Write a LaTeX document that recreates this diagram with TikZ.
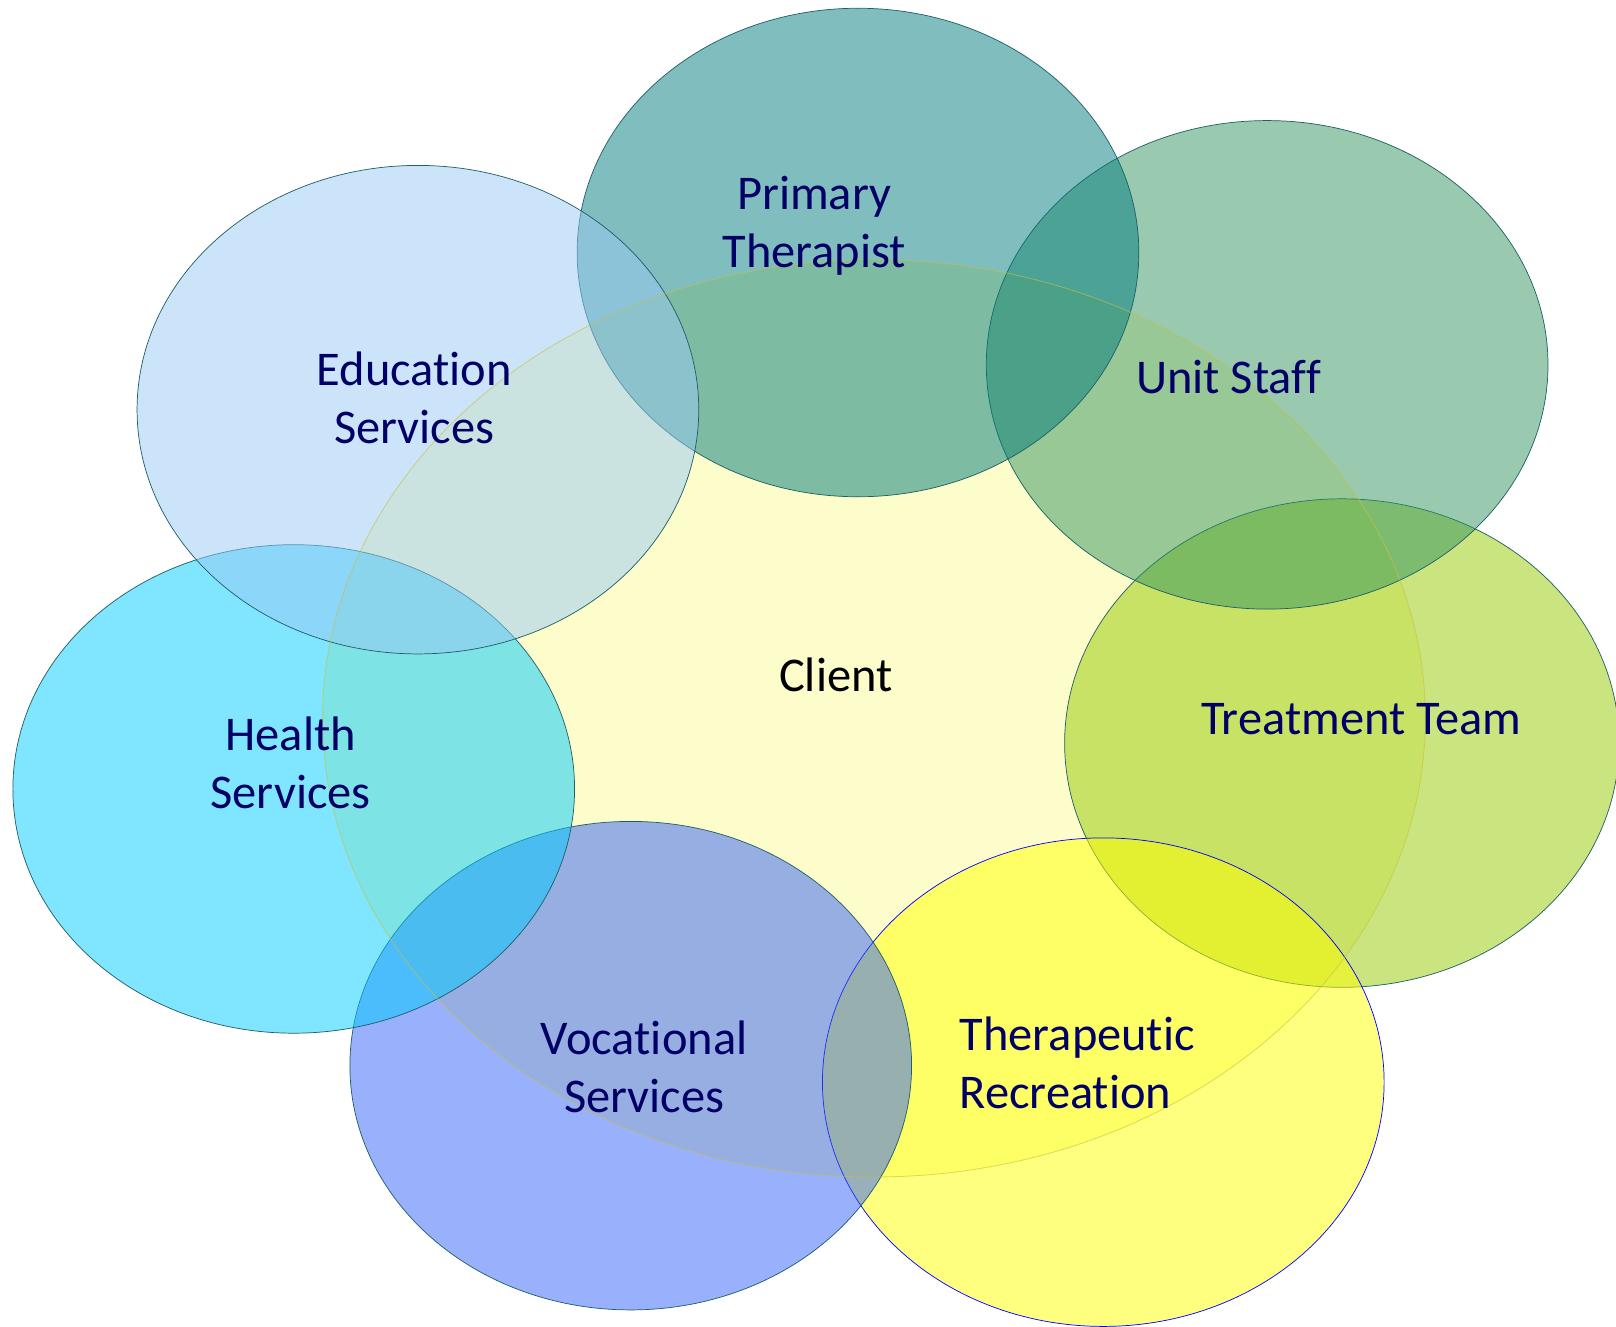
\documentclass[tikz,border=0pt]{standalone}
\usepackage{fontspec}
\setmainfont{Carlito}[Ligatures=NoCommon]
\usetikzlibrary{shapes.geometric}
\definecolor{edge}{HTML}{1F5F66}
\definecolor{clientfill}{HTML}{FDFDCB}
\definecolor{clientedge}{HTML}{C8C040}
\definecolor{cprim}{HTML}{017B7D}
\definecolor{cunit}{HTML}{339561}
\definecolor{cedu}{HTML}{99C9F5}
\definecolor{cheal}{HTML}{01CBFD}
\definecolor{ctreat}{HTML}{95C901}
\definecolor{cvoc}{HTML}{3361F9}
\definecolor{cther}{HTML}{FFFF00}
\definecolor{navy}{HTML}{000066}
\tikzset{
  oval/.style={ellipse, inner sep=0pt, minimum width=545pt, minimum height=474pt,
    draw=edge, line width=0.7pt, fill opacity=0.5},
  lbl/.style={text=navy, align=center, font=\fontsize{47}{56}\selectfont, inner sep=0pt}
}
\begin{document}
\begin{tikzpicture}[x=1pt,y=-1pt]
\useasboundingbox (0,0) rectangle (1568,1287);
\clip (0,0) rectangle (1568,1287);
% client (bottom)
\node[ellipse, inner sep=0pt, minimum width=1070pt, minimum height=890pt, fill=clientfill] (client) at (848,697) {};
% peripheral circles
\node[oval, fill=ctreat, minimum width=538pt] (treat) at (1302,721) {};
\node[oval, fill=cther, draw=blue] (ther) at (1070.5,1050) {};
\node[oval, fill=cvoc] (voc) at (612,1034) {};
\node[oval, fill=cheal] (heal) at (285,765.5) {};
\node[oval, fill=cunit] (unit) at (1229.5,354) {};
\node[oval, fill=cprim] (prim) at (832.5,245) {};
\node[oval, fill=cedu] (edu) at (405.5,397.5) {};
% client outline on top
\node[ellipse, inner sep=0pt, minimum width=1070pt, minimum height=890pt, draw=clientedge, draw opacity=0.6, line width=0.8pt] (clientrim) at (848,697) {};
% labels
\node[lbl] (tprim) at (790,219) {Primary\\Therapist};
\node[lbl] (tedu) at (402,386) {Education\\Services};
\node[lbl] (tunit) at (1192,366) {Unit Staff};
\node[lbl] (theal) at (282,740) {Health\\Services};
\node[lbl, text=black] (tclient) at (811,655) {Client};
\node[lbl] (ttreat) at (1321,698) {Treatment Team};
\node[lbl] (tvoc) at (625,1035) {Vocational\\Services};
\node[lbl, align=left, anchor=west] (tther) at (931,1031) {Therapeutic\\Recreation};
\end{tikzpicture}
\end{document}
